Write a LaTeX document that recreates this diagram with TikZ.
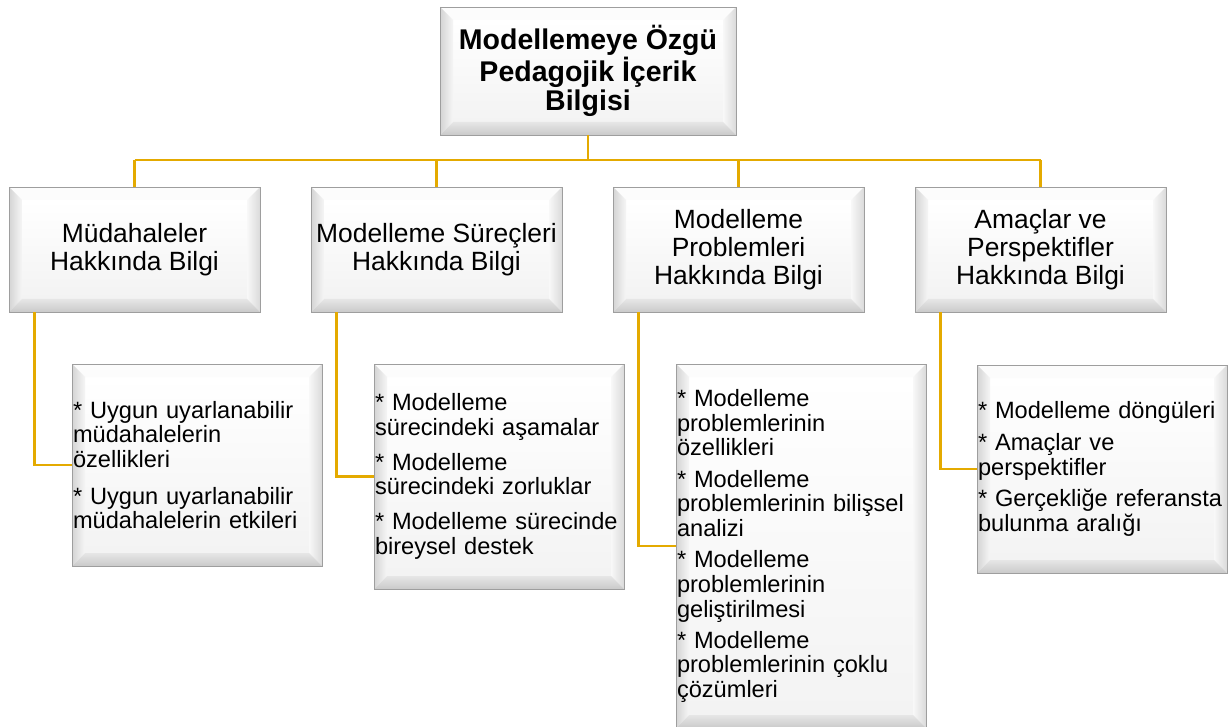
\documentclass[tikz,border=0pt]{standalone}
\usepackage{fontspec}
\setmainfont{Liberation Sans}
\hyphenpenalty=10000
\exhyphenpenalty=10000
\definecolor{linkgold}{RGB}{228,170,0}
\definecolor{rimgray}{RGB}{158,158,158}
\definecolor{facegray}{RGB}{243,243,243}
\definecolor{topfacet}{RGB}{252,252,252}
\definecolor{leftedge}{RGB}{212,212,212}
\definecolor{leftinner}{RGB}{246,246,246}
\definecolor{rightinner}{RGB}{248,248,248}
\definecolor{rightedge}{RGB}{218,218,218}
\definecolor{bottominner}{RGB}{230,230,230}
\definecolor{bottomedge}{RGB}{202,202,202}
\begin{document}
\begin{tikzpicture}[x=1pt,y=-1pt,
  link/.style={draw=linkgold, line width=2.3pt},
  bevelbox/.style={rectangle, draw=rimgray, line width=0.9pt, inner sep=0pt,
    outer sep=0pt,
    path picture={
      \coordinate (pNW) at (path picture bounding box.north west);
      \coordinate (pNE) at (path picture bounding box.north east);
      \coordinate (pSW) at (path picture bounding box.south west);
      \coordinate (pSE) at (path picture bounding box.south east);
      \coordinate (qNW) at ([shift={(13pt,-13pt)}]pNW);
      \coordinate (qNE) at ([shift={(-13pt,-13pt)}]pNE);
      \coordinate (qSW) at ([shift={(13pt,13pt)}]pSW);
      \coordinate (qSE) at ([shift={(-13pt,13pt)}]pSE);
      \shade[top color=white, bottom color=facegray] (qNW) rectangle (qSE);
      \fill[topfacet] (pNW) -- (pNE) -- (qNE) -- (qNW) -- cycle;
      \shade[left color=leftedge, right color=leftinner]
        (pNW) -- (qNW) -- (qSW) -- (pSW) -- cycle;
      \shade[left color=rightinner, right color=rightedge]
        (pNE) -- (qNE) -- (qSE) -- (pSE) -- cycle;
      \shade[top color=bottominner, bottom color=bottomedge]
        (pSW) -- (qSW) -- (qSE) -- (pSE) -- cycle;
    }},
  rootbox/.style={bevelbox, minimum width=296pt, minimum height=128pt,
    align=center, font=\fontsize{28.5}{29.5}\selectfont\bfseries},
  areabox/.style={bevelbox, minimum width=251pt, minimum height=125pt,
    align=center, font=\fontsize{26.4}{27.7}\selectfont},
  itembox/.style={bevelbox, minimum width=250pt, text width=248pt,
    inner xsep=1pt, align=left, font=\fontsize{23.6}{24.7}\selectfont}
]
\useasboundingbox (0,0) rectangle (1229,727);
\clip (0,0) rectangle (1229,727);

% root
\node[rootbox] (root) at (588,71)
  {Modellemeye Özgü\\Pedagojik İçerik\\Bilgisi};

% knowledge areas
\node[areabox] (k1) at (134.5,249.5) {Müdahaleler\\Hakkında Bilgi};
\node[areabox] (k2) at (436.5,249.5) {Modelleme Süreçleri\\Hakkında Bilgi};
\node[areabox] (k3) at (738.5,249.5) {Modelleme\\Problemleri\\Hakkında Bilgi};
\node[areabox] (k4) at (1040.5,249.5) {Amaçlar ve\\Perspektifler\\Hakkında Bilgi};

% detail lists
\node[itembox, minimum height=202pt] (d1) at (197,465)
  {*~Uygun~uyarlanabilir\\müdahalelerin\\özellikleri\\[12pt]%
   *~Uygun~uyarlanabilir\\müdahalelerin~etkileri};
\node[itembox, minimum height=225pt] (d2) at (499,476.5)
  {*~Modelleme\\sürecindeki~aşamalar\\[10pt]%
   *~Modelleme\\sürecindeki~zorluklar\\[10pt]%
   *~Modelleme~sürecinde\\bireysel~destek};
\node[itembox, minimum height=364pt] (d3) at (801,546)
  {*~Modelleme\\problemlerinin\\özellikleri\\[6.5pt]%
   *~Modelleme\\problemlerinin~bilişsel\\analizi\\[6.5pt]%
   *~Modelleme\\problemlerinin\\geliştirilmesi\\[6.5pt]%
   *~Modelleme\\problemlerinin~çoklu\\çözümleri};
\node[itembox, minimum height=208pt] (d4) at (1102,469)
  {*~Modelleme~döngüleri\\[7pt]%
   *~Amaçlar~ve\\perspektifler\\[7pt]%
   *~Gerçekliğe~referansta\\bulunma~aralığı};

% tree connectors
\coordinate (bus) at (0,160);
\draw[link] (root.south) -- (root.south |- bus);
\draw[link] (k1.north |- bus) -- (k4.north |- bus);
\foreach \k in {k1,k2,k3,k4}
  \draw[link] (\k.north |- bus) -- (\k.north);

% area-to-list connectors
\foreach \k/\d in {k1/d1,k2/d2,k3/d3,k4/d4}
  \draw[link] ([xshift=-100pt]\k.south) |- (\d.west);
\end{tikzpicture}
\end{document}
